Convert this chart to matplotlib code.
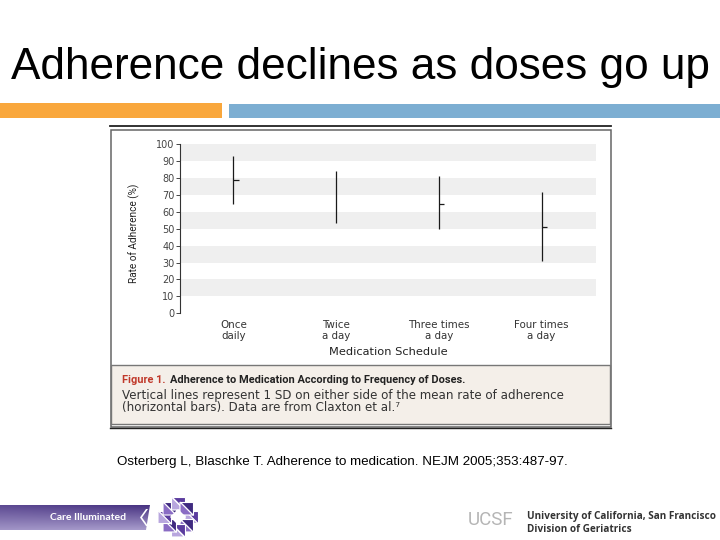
import numpy as np
import matplotlib
matplotlib.use("Agg")
import matplotlib.pyplot as plt
from matplotlib.patches import Rectangle, Polygon

# ---- data ----
categories = ["Once\ndaily", "Twice\na day", "Three times\na day", "Four times\na day"]
sd_low = [64.7, 53.6, 49.9, 31.0]
sd_high = [93.0, 84.2, 81.2, 71.8]
means = [78.7, np.nan, 64.5, 50.9]
yticks = [0, 10, 20, 30, 40, 50, 60, 70, 80, 90, 100]

W, H = 720, 540
fig = plt.figure(figsize=(7.2, 5.4), dpi=100)
fig.patch.set_facecolor("white")

# background axes in pixel coordinates
bg = fig.add_axes([0, 0, 1, 1])
bg.set_xlim(0, W)
bg.set_ylim(H, 0)
bg.axis("off")

# Title
bg.text(360, 68, "Adherence declines as doses go up", ha="center", va="center",
        fontsize=31.8, family="Liberation Sans", color="black")
# colour bars
bg.add_patch(Rectangle((0, 102.5), 222, 15, color="#f9a73c", lw=0))
bg.add_patch(Rectangle((229, 103.5), 491, 14, color="#7caed2", lw=0))

# chart image frame
bg.plot([110, 611], [126.3, 126.3], color="#222222", lw=1.3)
bg.add_patch(Rectangle((110.5, 130), 500, 297, fill=False, ec="#666666", lw=1.1))
bg.plot([110, 611], [427.5, 427.5], color="#222222", lw=1.0)
# caption box
bg.add_patch(Rectangle((111, 365), 499, 59, facecolor="#f4efe9", ec="#777777", lw=1.0))
t_fig = bg.text(122, 380, "Figure 1.", ha="left", va="center", fontsize=7.9,
                family="Roboto", color="#c0392b", fontweight="bold")
fig.canvas.draw()
r = fig.canvas.get_renderer()
ext = t_fig.get_window_extent(renderer=r)
x_next = ext.x1 + 4  # pixels
bg.text(x_next, 380, "Adherence to Medication According to Frequency of Doses.", ha="left",
        va="center", fontsize=7.9, family="Roboto", color="#222222", fontweight="bold")
bg.text(122, 396, "Vertical lines represent 1 SD on either side of the mean rate of adherence",
        ha="left", va="center", fontsize=8.6, family="DejaVu Sans", color="#333333")
bg.text(122, 408, "(horizontal bars). Data are from Claxton et al.\u2077",
        ha="left", va="center", fontsize=8.6, family="DejaVu Sans", color="#333333")

# citation
bg.text(117, 462, "Osterberg L, Blaschke T. Adherence to medication. NEJM 2005;353:487-97.",
        ha="left", va="center", fontsize=9.6, family="Liberation Sans", color="black")

# footer purple banner with gradient
grad = np.zeros((30, 150, 3))
top = np.array([0x48, 0x33, 0x82]) / 255
bot = np.array([0xa8, 0x9c, 0xcc]) / 255
left_light = np.array([0x8e, 0x80, 0xb8]) / 255
for i in range(30):
    for j in range(150):
        v = i / 29.0
        h = 1 - j / 149.0
        c = top * (1 - v) + bot * v
        c = c * (1 - 0.3 * h) + left_light * 0.3 * h
        grad[i, j] = c
im = bg.imshow(grad, extent=(0, 150, 530, 505), aspect="auto", zorder=1)
clip = Polygon([(0, 505), (150, 505), (146, 530), (0, 530)], closed=True,
               transform=bg.transData, fc="none", ec="none")
bg.add_patch(clip)
im.set_clip_path(clip)
bg.add_patch(Polygon([(146, 509), (140, 517.5), (146, 526), (148, 526), (142, 517.5), (148, 509)],
                     closed=True, fc="white", ec="none", zorder=2))
bg.text(88, 518, "Care Illuminated", ha="center", va="center", fontsize=7.5,
        family="Lato", fontweight="bold", color="white", zorder=3)

# logo: ring of split squares around a white diamond
cx, cy = 178, 517
shades = [("#5b3c9e", "#b8a6de"), ("#3f2a80", "#8a6cc4")]
s = 6.5
for k in range(8):
    a = np.deg2rad(k * 45)
    rr = 13.5 if k % 2 == 0 else 12
    px, py = cx + rr * np.cos(a), cy + rr * np.sin(a)
    sq = [(px - s, py - s), (px + s, py - s), (px + s, py + s), (px - s, py + s)]
    t1 = [sq[0], sq[1], sq[2]]
    t2 = [sq[0], sq[2], sq[3]]
    c1, c2 = shades[k % 2]
    bg.add_patch(Polygon(t1, closed=True, fc=c1, ec="white", lw=0.8, zorder=2))
    bg.add_patch(Polygon(t2, closed=True, fc=c2, ec="white", lw=0.8, zorder=2))
bg.add_patch(Polygon([(cx, cy - 8), (cx + 8, cy), (cx, cy + 8), (cx - 8, cy)], closed=True,
                     fc="white", ec="none", zorder=3))

# UCSF logo
bg.text(491, 520, "UCSF", ha="center", va="center", fontsize=13.5, family="Roboto",
        color="#b5b5b5")
bg.text(527, 517, "University of California, San Francisco", ha="left", va="center",
        fontsize=7.2, family="Open Sans", fontweight="bold", color="#333333")
bg.text(527, 529, "Division of Geriatrics", ha="left", va="center",
        fontsize=7.2, family="Open Sans", fontweight="bold", color="#333333")

# ---- chart axes ----
x0, x1 = 180, 596
y100, y0 = 144, 313.3
ax = fig.add_axes([x0 / W, 1 - y0 / H, (x1 - x0) / W, (y0 - y100) / H])
ax.set_facecolor("white")
xpos = np.arange(len(categories))
ax.set_xlim(-0.52, 3.53)
ax.set_ylim(0, 100)
for lo in [10, 30, 50, 70, 90]:
    ax.axhspan(lo, lo + 10, color="#efefef", lw=0, zorder=0)
ax.vlines(xpos, sd_low, sd_high, color="#1a1a1a", lw=0.9, zorder=3)
ax.hlines(means, xpos, xpos + 0.05, color="#1a1a1a", lw=0.9, zorder=3)

for sp in ["top", "right", "bottom"]:
    ax.spines[sp].set_visible(False)
ax.spines["left"].set_color("#333333")
ax.spines["left"].set_linewidth(0.8)
ax.set_yticks(yticks)
ax.set_yticklabels([str(v) for v in yticks], fontsize=7, color="#444444")
ax.tick_params(axis="y", length=3, width=0.7, pad=1, colors="#444444")
ax.set_xticks(xpos)
ax.set_xticklabels(categories, fontsize=7.4, color="#333333", linespacing=1.1)
ax.tick_params(axis="x", length=0, pad=5)
ax.set_xlabel("Medication Schedule", fontsize=8.2, color="#222222", labelpad=4)
ax.set_ylabel("Rate of Adherence (%)", fontsize=7.2, color="#222222", labelpad=9,
              family="Roboto")
ax.yaxis.set_label_coords(-0.095, 0.47)

fig.savefig("out.png", dpi=100, facecolor="white")
